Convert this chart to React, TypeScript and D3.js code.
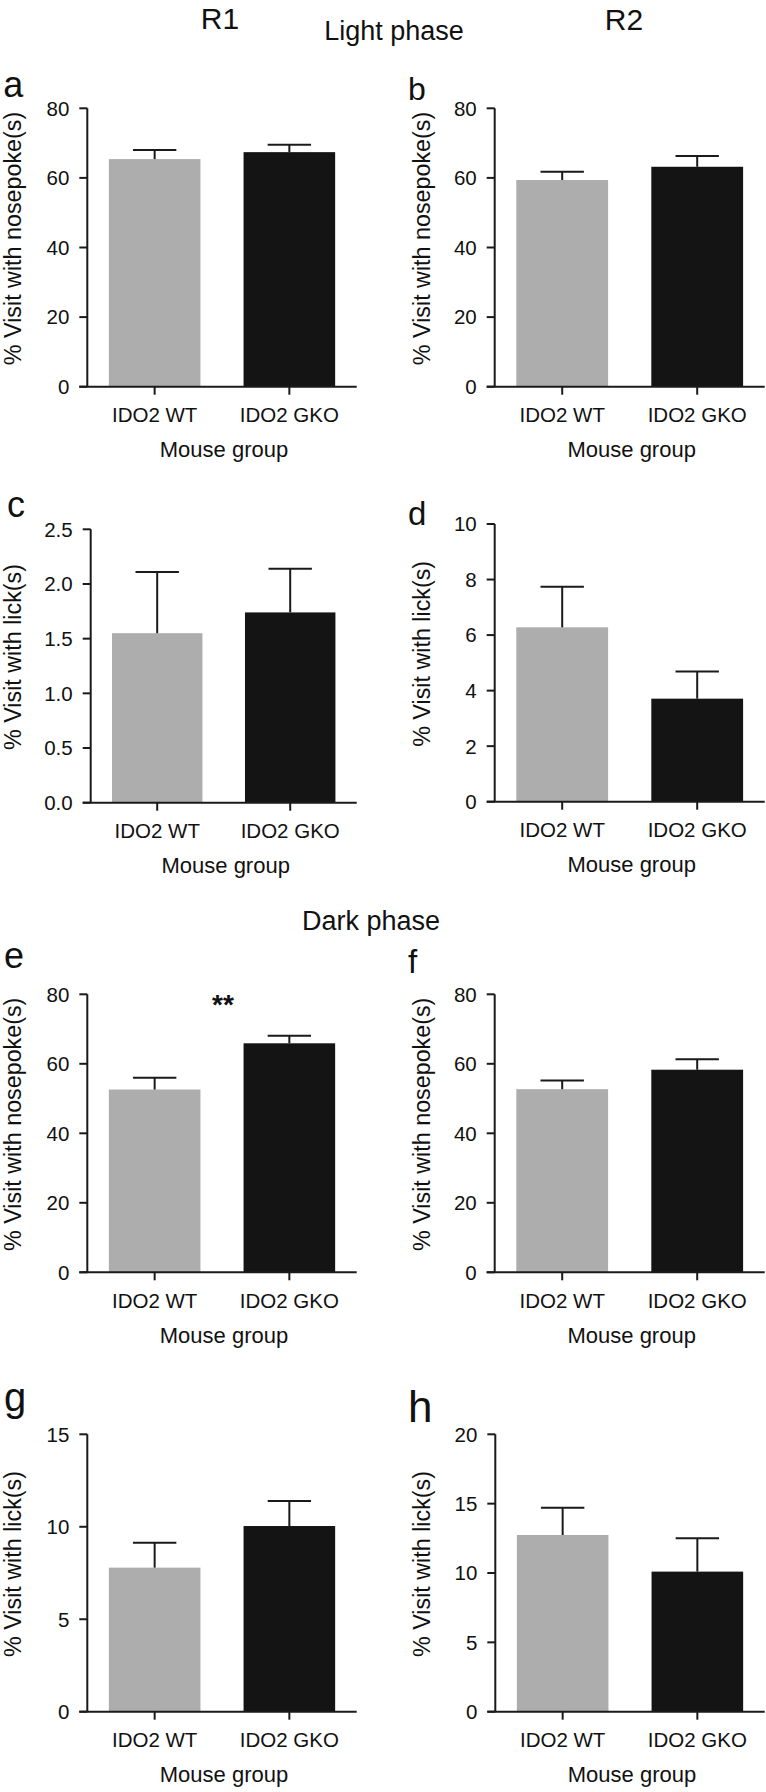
import React from "react";
import * as d3 from "d3";

// ---------- data ----------
const categories = ["IDO2 WT", "IDO2 GKO"];
const panelLetters = ["a", "b", "c", "d", "e", "f", "g", "h"];
const yTitles = [
  "% Visit with nosepoke(s)",
  "% Visit with nosepoke(s)",
  "% Visit with lick(s)",
  "% Visit with lick(s)",
  "% Visit with nosepoke(s)",
  "% Visit with nosepoke(s)",
  "% Visit with lick(s)",
  "% Visit with lick(s)",
];
const xTitle = "Mouse group";
const meanWT = [65.4, 59.4, 1.55, 6.28, 52.6, 52.7, 7.79, 12.74];
const meanGKO = [67.4, 63.2, 1.74, 3.71, 65.9, 58.3, 10.04, 10.1];
const semWT = [2.6, 2.4, 0.56, 1.46, 3.4, 2.5, 1.35, 1.97];
const semGKO = [2.1, 3.1, 0.4, 0.98, 2.2, 3.0, 1.36, 2.4];
const yMax = [80, 80, 2.5, 10, 80, 80, 15, 20];
const yStep = [20, 20, 0.5, 2, 20, 20, 5, 5];
const yDecimals = [0, 0, 1, 0, 0, 0, 0, 0];
const significance = ["", "", "", "", "**", "", "", ""];
const columnHeaders = ["R1", "R2"];
const phaseHeaders = ["Light phase", "Dark phase"];

// ---------- layout ----------
const layout = [
  { axisX: 87.3, top: 108.3, bottom: 386.7, right: 356.7, lx: 3.3, ly: 96.7, ls: 36, tx: 20.5 },
  { axisX: 494.7, top: 108.3, bottom: 386.7, right: 764.7, lx: 408, ly: 100, ls: 32, tx: 429.5 },
  { axisX: 90.7, top: 529.3, bottom: 802.7, right: 356.7, lx: 7, ly: 516.7, ls: 36, tx: 20.5 },
  { axisX: 494.7, top: 524, bottom: 801.7, right: 764.7, lx: 408, ly: 525, ls: 33, tx: 429.5 },
  { axisX: 87.3, top: 994.3, bottom: 1272.3, right: 356.7, lx: 4, ly: 968.3, ls: 36, tx: 20.5 },
  { axisX: 494.7, top: 994.3, bottom: 1272.3, right: 764.7, lx: 408, ly: 973, ls: 33, tx: 429.5 },
  { axisX: 87.3, top: 1434.3, bottom: 1711.7, right: 356.7, lx: 4, ly: 1411, ls: 40, tx: 20.5 },
  { axisX: 495.3, top: 1434.3, bottom: 1711.7, right: 764.7, lx: 408, ly: 1421.7, ls: 44, tx: 429.5 },
];

const FONT = "'Liberation Sans', Arial, Helvetica, sans-serif";
const INK = "#1a1a1a";
const barColors = ["#adadad", "#141414"];

function Panel({ i }: { i: number }) {
  const L = layout[i];
  const y = d3.scaleLinear().domain([0, yMax[i]]).range([L.bottom, L.top]);
  const x = d3
    .scaleBand()
    .domain(categories)
    .range([L.axisX, L.right])
    .paddingInner(0.32)
    .paddingOuter(0.16);
  const ticks = d3.range(0, yMax[i] + yStep[i] / 2, yStep[i]);
  const fmt = d3.format(`.${yDecimals[i]}f`);
  const means = [meanWT[i], meanGKO[i]];
  const sems = [semWT[i], semGKO[i]];
  const bw = x.bandwidth();
  const centers = categories.map((c) => (x(c) as number) + bw / 2);
  const plotMid = (L.top + L.bottom) / 2;
  const capHalf = 21.7;
  return (
    <g>
      <text x={L.lx} y={L.ly} fontSize={L.ls} fontFamily={FONT} fill="#111">
        {panelLetters[i]}
      </text>
      {categories.map((c, k) => (
        <rect
          key={c}
          x={x(c)}
          y={y(means[k])}
          width={bw}
          height={L.bottom - y(means[k])}
          fill={barColors[k]}
        />
      ))}
      {categories.map((c, k) => (
        <g key={c + "e"} stroke={INK} strokeWidth={2} fill="none">
          <line x1={centers[k]} x2={centers[k]} y1={y(means[k])} y2={y(means[k] + sems[k])} />
          <line
            x1={centers[k] - capHalf}
            x2={centers[k] + capHalf}
            y1={y(means[k] + sems[k])}
            y2={y(means[k] + sems[k])}
          />
        </g>
      ))}
      <g stroke={INK} strokeWidth={2} fill="none">
        <line x1={L.axisX} x2={L.axisX} y1={L.top} y2={L.bottom} />
        <line x1={L.axisX - 8} x2={L.right} y1={L.bottom} y2={L.bottom} />
        {ticks.map((t) => (
          <line key={t} x1={L.axisX - 8} x2={L.axisX} y1={y(t)} y2={y(t)} />
        ))}
        {centers.map((cx, k) => (
          <line key={k} x1={cx} x2={cx} y1={L.bottom} y2={L.bottom + 8} />
        ))}
      </g>
      {ticks.map((t) => (
        <text
          key={"l" + t}
          x={L.axisX - 18}
          y={y(t)}
          dy="0.36em"
          textAnchor="end"
          fontSize={20.5}
          fontFamily={FONT}
          fill="#111"
        >
          {fmt(t)}
        </text>
      ))}
      {categories.map((c, k) => (
        <text
          key={"c" + c}
          x={centers[k]}
          y={L.bottom + 35.2}
          textAnchor="middle"
          fontSize={20.5}
          fontFamily={FONT}
          fill="#111"
        >
          {c}
        </text>
      ))}
      <text
        x={(centers[0] + centers[1]) / 2 + 2}
        y={L.bottom + 70.5}
        textAnchor="middle"
        fontSize={22}
        fontFamily={FONT}
        fill="#111"
      >
        {xTitle}
      </text>
      <text
        transform={`translate(${L.tx},${plotMid - 9}) rotate(-90)`}
        textAnchor="middle"
        fontSize={23.3}
        fontFamily={FONT}
        fill="#111"
      >
        {yTitles[i]}
      </text>
      {significance[i] && (
        <text
          x={(centers[0] + centers[1]) / 2 + 1}
          y={L.top + 20}
          textAnchor="middle"
          fontSize={28}
          fontWeight="bold"
          fontFamily={FONT}
          fill="#111"
        >
          {significance[i]}
        </text>
      )}
    </g>
  );
}

export default function App() {
  return (
    <svg
      width={766}
      height={1792}
      viewBox="0 0 766 1792"
      style={{ position: "absolute", left: 0, top: 0, background: "#fff" }}
    >
      <rect x={0} y={0} width={766} height={1792} fill="#fff" />
      <text x={220} y={29} textAnchor="middle" fontSize={30} fontFamily={FONT} fill="#111">
        {columnHeaders[0]}
      </text>
      <text x={624} y={30} textAnchor="middle" fontSize={30} fontFamily={FONT} fill="#111">
        {columnHeaders[1]}
      </text>
      <text x={394} y={40} textAnchor="middle" fontSize={27} fontFamily={FONT} fill="#111">
        {phaseHeaders[0]}
      </text>
      <text x={371} y={930} textAnchor="middle" fontSize={27} fontFamily={FONT} fill="#111">
        {phaseHeaders[1]}
      </text>
      {panelLetters.map((_, i) => (
        <Panel key={i} i={i} />
      ))}
    </svg>
  );
}
